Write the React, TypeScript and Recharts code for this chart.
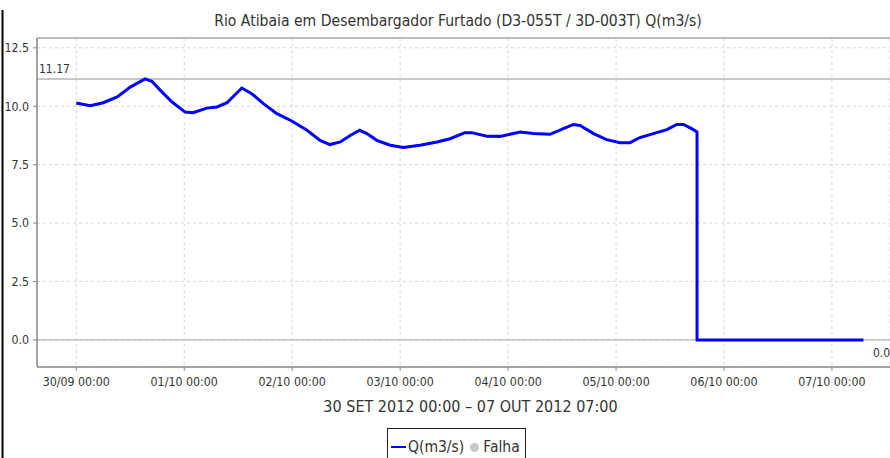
import React from "react";
import {
  LineChart,
  Line,
  XAxis,
  YAxis,
  CartesianGrid,
  ReferenceLine,
  Legend,
} from "recharts";

// hours since 30/09/2012 00:00
const hours = [
  0, 3.1, 6, 9.1, 12, 15.3, 16.8, 18.7, 21.3, 24.2, 26, 29, 31.3, 33.5, 36.8, 39,
  41.6, 44.6, 47.9, 51.3, 54.2, 56.4, 58.7, 60.9, 63, 64.6, 66.8, 69.8, 72.7, 76.4,
  80.2, 83.1, 86.4, 87.9, 91.3, 94.2, 98.7, 101.6, 105.3, 108.3, 110.5, 112, 115,
  117.9, 120.9, 123.1, 125.3, 128.3, 131.3, 133.5, 135, 136.8, 138, 138, 175,
];
const flow = [
  10.14, 10.02, 10.15, 10.4, 10.82, 11.17, 11.07, 10.68, 10.18, 9.75, 9.72, 9.92,
  9.97, 10.15, 10.78, 10.54, 10.11, 9.68, 9.37, 8.97, 8.54, 8.36, 8.47, 8.75, 8.97,
  8.83, 8.54, 8.33, 8.23, 8.33, 8.47, 8.61, 8.87, 8.87, 8.72, 8.71, 8.9, 8.83, 8.8,
  9.04, 9.22, 9.18, 8.83, 8.57, 8.44, 8.44, 8.66, 8.83, 9.0, 9.22, 9.22, 9.04, 8.9,
  0, 0,
];
const xTickHours = [0, 24, 48, 72, 96, 120, 144, 168];
const xTickLabels = [
  "30/09 00:00",
  "01/10 00:00",
  "02/10 00:00",
  "03/10 00:00",
  "04/10 00:00",
  "05/10 00:00",
  "06/10 00:00",
  "07/10 00:00",
];
const yTicks = [0, 2.5, 5, 7.5, 10, 12.5];
const maxValue = 11.17;
const minValue = 0;
const X_DOMAIN: [number, number] = [-8.73, 180.9];
const Y_DOMAIN: [number, number] = [-1.16, 12.92];

const title = "Rio Atibaia em Desembargador Furtado (D3-055T / 3D-003T) Q(m3/s)";
const xLabel = "30 SET 2012 00:00 \u2013 07 OUT 2012 07:00";
const seriesName = "Q(m3/s)";
const failName = "Falha";

const data = hours.map((h, i) => ({ h, q: flow[i] }));

const FONT = "'DejaVu Sans Condensed', 'DejaVu Sans', sans-serif";

const MaxLabel = (props: any) => {
  const vb = props.viewBox || {};
  return (
    <text x={vb.x + 2} y={vb.y - 6} fontSize={12} fontFamily={FONT} fill="#333">
      {maxValue.toFixed(2)}
    </text>
  );
};

const MinLabel = (props: any) => {
  const vb = props.viewBox || {};
  return (
    <text
      x={vb.x + vb.width - 17}
      y={vb.y + 17}
      fontSize={12}
      fontFamily={FONT}
      fill="#333"
    >
      {minValue.toFixed(1)}
    </text>
  );
};

const XAxisTitle = (props: any) => {
  const vb = props.viewBox || {};
  return (
    <text
      x={vb.x + vb.width / 2 + 7}
      y={vb.y + vb.height - 3}
      textAnchor="middle"
      fontSize={16}
      fontFamily={FONT}
      fill="#333"
    >
      {xLabel}
    </text>
  );
};

const LegendBox = () => (
  <div
    style={{
      border: "1px solid #222",
      padding: "9px 5px 8px 3px",
      display: "flex",
      alignItems: "center",
      fontFamily: FONT,
      fontSize: 15.5,
      color: "#333",
      background: "#fff",
      whiteSpace: "nowrap",
    }}
  >
    <span
      style={{
        display: "inline-block",
        width: 15,
        height: 2,
        background: "#0000ff",
        marginRight: 2,
      }}
    />
    <span>{seriesName}</span>
    <span
      style={{
        display: "inline-block",
        width: 9,
        height: 9,
        borderRadius: "50%",
        background: "#c8c8c8",
        marginLeft: 6,
        marginRight: 4,
      }}
    />
    <span>{failName}</span>
  </div>
);

export default function App() {
  return (
    <div style={{ position: "absolute", left: 0, top: 0, width: 890, height: 458, background: "#fff", overflow: "hidden" }}>
      <LineChart
        width={890}
        height={458}
        data={data}
        margin={{ top: 38, right: 0, bottom: 43, left: 0 }}
      >
        <rect x={1.5} y={10} width={2} height={448} fill="#000" />
        <text
          x={458}
          y={26}
          textAnchor="middle"
          fontSize={15.6}
          fontFamily={FONT}
          fill="#333"
        >
          {title}
        </text>
        <CartesianGrid stroke="#d4d4d4" strokeDasharray="3 3" />
        <XAxis
          type="number"
          dataKey="h"
          domain={X_DOMAIN}
          allowDataOverflow
          ticks={xTickHours}
          tickFormatter={(v: number) => xTickLabels[xTickHours.indexOf(v)] ?? ""}
          tick={{ fontSize: 12.3, fontFamily: FONT, fill: "#333" }}
          tickLine={{ stroke: "#888" }}
          axisLine={{ stroke: "#888", strokeWidth: 1.5 }}
          tickSize={4}
          tickMargin={6}
          height={48}
          interval={0}
          label={<XAxisTitle />}
        />
        <YAxis
          type="number"
          domain={Y_DOMAIN}
          allowDataOverflow
          ticks={yTicks}
          tickFormatter={(v: number) => v.toFixed(1)}
          tick={{ fontSize: 12.3, fontFamily: FONT, fill: "#333" }}
          tickLine={{ stroke: "#888" }}
          axisLine={{ stroke: "#888", strokeWidth: 1.5 }}
          tickSize={4}
          tickMargin={4}
          width={37}
        />
        <ReferenceLine y={Y_DOMAIN[1]} stroke="#aaa" strokeWidth={1.5} />
        <ReferenceLine y={0} stroke="#aaa" strokeWidth={1} label={<MinLabel />} />
        <ReferenceLine y={maxValue} stroke="#b4b4b4" strokeWidth={1.5} label={<MaxLabel />} />
        <Line
          type="linear"
          dataKey="q"
          name={seriesName}
          stroke="#0000ff"
          strokeWidth={3}
          dot={false}
          isAnimationActive={false}
        />
        <Legend
          layout="vertical"
          align="center"
          verticalAlign="middle"
          content={<LegendBox />}
          wrapperStyle={{ position: "absolute", left: 387, top: 428, width: "auto" }}
        />
      </LineChart>
    </div>
  );
}
